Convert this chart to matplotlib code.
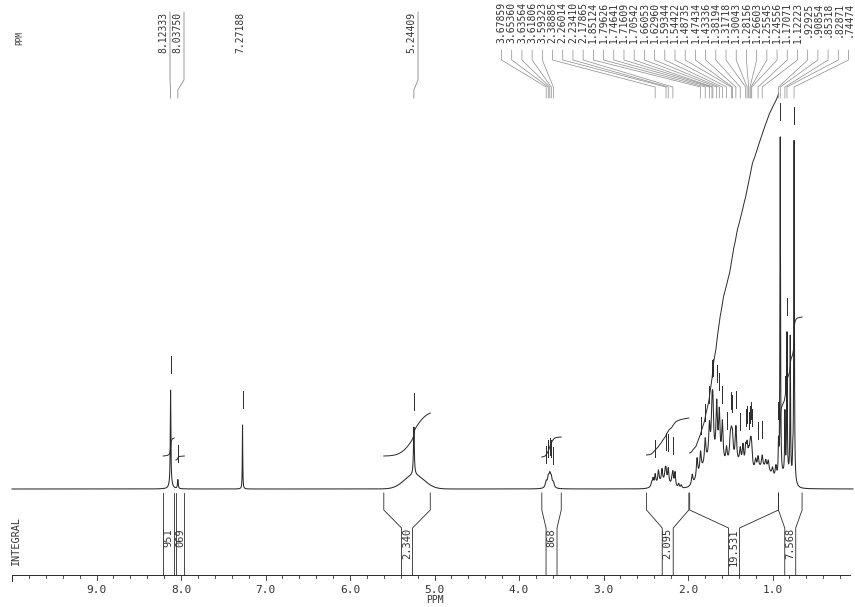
import numpy as np
import matplotlib
matplotlib.use("Agg")
import matplotlib.pyplot as plt

# ---------------- data ----------------
# sharp lines (Lorentzian): centre (ppm), height, half-width (ppm)
peak_ppm = [8.12333, 8.12, 8.03750, 7.27188, 5.24409,
            3.67859, 3.65360, 3.63564, 3.61806, 3.59323,
            2.43, 2.414, 2.38885, 2.35, 2.308, 2.27, 2.26014, 2.23410, 2.19, 2.17865, 2.154, 2.11, 2.08,
            1.95, 1.893, 1.85124, 1.79626, 1.74641, 1.71609, 1.70542, 1.66053, 1.62960, 1.59344,
            1.54422, 1.50, 1.48735, 1.47434, 1.43336, 1.38194, 1.35, 1.31718, 1.30043, 1.28156,
            1.26603, 1.25545, 1.24556, 1.20, 1.17071, 1.12223, 1.08, 1.05, 1.00, 0.96,
            0.92925, 0.90854, 0.85318, 0.82871, 0.79, 0.76, 0.74474]
peak_height = [93, 6, 9, 64, 48,
               6, 9, 11, 9, 5,
               4, 7, 10, 12, 12, 10, 10, 14, 6, 12, 14, 4, 3,
               10, 20, 20, 24, 32, 40, 44, 55, 48, 40,
               15, 20, 20, 22, 35, 15, 20, 18, 20, 12,
               15, 18, 15, 10, 12, 12, 8, 10, 8, 12,
               30, 340, 60, 140, 140, 20, 342]
peak_hw = [0.004, 0.02, 0.005, 0.003, 0.006,
           0.012, 0.012, 0.012, 0.012, 0.012,
           0.008, 0.008, 0.008, 0.008, 0.008, 0.008, 0.008, 0.008, 0.008, 0.008, 0.008, 0.008, 0.008,
           0.01, 0.01, 0.01, 0.01, 0.01, 0.01, 0.01, 0.01, 0.01, 0.01,
           0.01, 0.01, 0.01, 0.01, 0.01, 0.01, 0.01, 0.01, 0.01, 0.01,
           0.01, 0.01, 0.01, 0.01, 0.01, 0.01, 0.01, 0.01, 0.01, 0.01,
           0.004, 0.004, 0.004, 0.004, 0.004, 0.004, 0.004]
# broad envelopes (Gaussian): centre, height, sigma
env_ppm = [5.24, 2.30, 1.75, 1.45, 1.10, 0.84]
env_height = [14, 7, 24, 24, 18, 12]
env_sigma = [0.12, 0.08, 0.10, 0.15, 0.10, 0.06]

# peak-pick labels
iso_labels = ["8.12333", "8.03750", "7.27188", "5.24409"]
iso_has_line = [True, True, False, True]
cluster_labels = ["3.67859", "3.65360", "3.63564", "3.61806", "3.59323",
                  "2.38885", "2.26014", "2.23410", "2.17865",
                  "1.85124", "1.79626", "1.74641", "1.71609", "1.70542", "1.66053",
                  "1.62960", "1.59344", "1.54422", "1.48735", "1.47434", "1.43336",
                  "1.38194", "1.31718", "1.30043", "1.28156", "1.26603", "1.25545",
                  "1.24556", "1.17071", "1.12223", ".92925", ".90854", ".85318",
                  ".82871", ".74474"]

# integrals
int_lo = [8.08, 7.96, 5.05, 3.50, 1.99, 0.93, 0.65]
int_hi = [8.21, 8.06, 5.60, 3.73, 2.49, 1.98, 0.93]
int_text = ["951", "069", "2.340", "868", "2.095", "19.531", "7.568"]
int_start = [33, 29, 33, 32, 34, 36, 45]
int_end = [51, 33, 76, 52, 71, 395, 172]

axis_labels = ["9.0", "8.0", "7.0", "6.0", "5.0", "4.0", "3.0", "2.0", "1.0"]
axis_values = [9, 8, 7, 6, 5, 4, 3, 2, 1]

# ---------------- layout helpers ----------------
def px(p):   # horizontal pixel -> ppm
    return 8.0 - (p - 181.0) / 84.5

def lv(py):  # vertical pixel -> level above baseline
    return 489.0 - py

INK = "#2a2a2a"
THIN = "#8a8a8a"
TXT = "#333333"
MONO = ["DejaVu Sans Mono"]

fig = plt.figure(figsize=(8.55, 6.07), dpi=100)
ax = fig.add_axes([0, 0, 1, 1])
ax.set_xlim(px(0), px(855))
ax.set_ylim(lv(607), lv(0))
ax.axis("off")

# ---------------- spectrum ----------------
grid = np.linspace(10.0, px(853), 40000)
spec = np.zeros_like(grid)
for c, h, w in zip(peak_ppm, peak_height, peak_hw):
    spec += h * w ** 2 / ((grid - c) ** 2 + w ** 2)
for c, h, s in zip(env_ppm, env_height, env_sigma):
    spec += h * np.exp(-0.5 * ((grid - c) / s) ** 2)
ax.plot(grid, spec, color=INK, lw=0.75)

def spec_at(p):
    return np.interp(-p, -grid, spec)

# ---------------- integral curves ----------------
for lo, hi, s0, s1 in zip(int_lo, int_hi, int_start, int_end):
    m = (grid <= hi) & (grid >= lo)
    cum = np.cumsum(spec[m])
    cum = (cum - cum[0]) / (cum[-1] - cum[0])
    ax.plot(grid[m], s0 + (s1 - s0) * cum, color=INK, lw=0.7)

# ---------------- peak markers and labels ----------------
for lab in iso_labels + cluster_labels:
    p = float(lab)
    s = spec_at(p)
    ax.plot([p, p], [s + 17, s + 34], color=INK, lw=0.7)

iso_text_px = [163, 177, 240, 411]
for lab, tpx, has in zip(iso_labels, iso_text_px, iso_has_line):
    p = float(lab)
    ax.text(px(tpx), lv(12), lab, rotation=90, ha="center", va="top",
            fontsize=7.0, family=MONO, color=TXT)
    if has:
        lx = px(tpx + 7)
        ax.plot([lx, lx, p, p], [lv(12), lv(80), lv(90), lv(98)], color=THIN, lw=0.6)

n = len(cluster_labels)
for i, lab in enumerate(cluster_labels):
    p = float(lab)
    tpx = 501.5 + i * (848.5 - 501.5) / (n - 1)
    ax.text(px(tpx), lv(2), lab, rotation=90, ha="center", va="top",
            fontsize=7.0, family=MONO, color=TXT)
    ax.plot([px(tpx), px(tpx), p, p], [lv(50), lv(60), lv(87), lv(98)],
            color=THIN, lw=0.5)

ax.text(px(20), lv(38), "PPM", rotation=90, ha="center", va="center",
        fontsize=5.5, family=MONO, color=TXT)

# ---------------- integral brackets ----------------
INNER = 0.065
for lo, hi, t in zip(int_lo, int_hi, int_text):
    c = 0.5 * (lo + hi)
    half = 0.5 * (hi - lo)
    inn = min(INNER, half)
    for sgn, edge in ((1, hi), (-1, lo)):
        ax.plot([edge, edge, c + sgn * inn, c + sgn * inn],
                [lv(493), lv(510), lv(528), lv(575)], color=INK, lw=0.6)
    ax.text(c, lv(528), t, rotation=90, ha="center", va="top",
            fontsize=7.5, family=MONO, color=TXT)

ax.text(px(16), lv(542), "INTEGRAL", rotation=90, ha="center", va="center",
        fontsize=7.3, family=MONO, color=TXT)

# ---------------- axis ----------------
ax.plot([10.0, px(850)], [lv(575), lv(575)], color=INK, lw=0.7)
ax.plot([10.0, 10.0], [lv(575), lv(581)], color=INK, lw=0.7)
minor = np.arange(1, 50) * 0.2
for t in minor:
    if px(850) < t < 10.0:
        ln = 5 if abs(t - round(t)) < 1e-6 else 3
        ax.plot([t, t], [lv(575), lv(575 + ln)], color=INK, lw=0.6)
for v, lab in zip(axis_values, axis_labels):
    ax.text(v, lv(590), lab, ha="center", va="center", fontsize=8,
            family=MONO, color=TXT)
ax.text(5.0, lv(600), "PPM", ha="center", va="center", fontsize=7,
        family=MONO, color=TXT)

fig.savefig("out.png", dpi=100, facecolor="white")
